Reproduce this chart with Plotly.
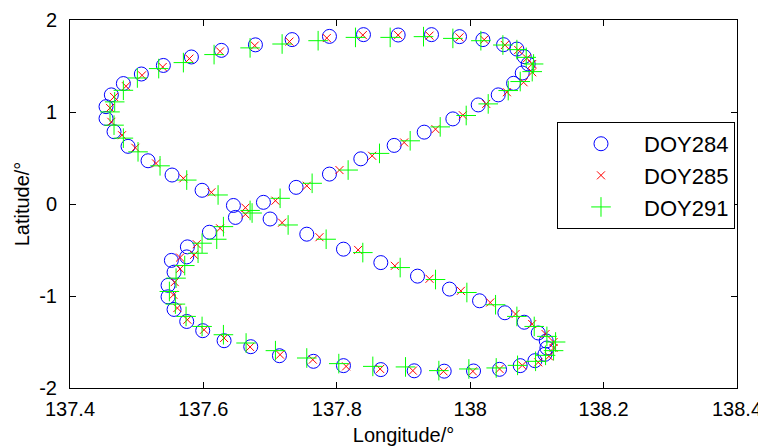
import plotly.graph_objects as go

# DOY284 (blue circles)
lon_284 = [137.690, 137.739, 137.789, 137.836, 137.886, 137.931, 137.974, 138.012, 138.042, 138.065,
           138.078, 138.087, 138.081, 138.070, 138.050, 138.019, 137.984, 137.942, 137.892, 137.840,
           137.789, 137.733, 137.678, 137.627, 137.582, 137.540, 137.507, 137.480, 137.462, 137.454,
           137.454, 137.466, 137.487, 137.517, 137.553, 137.598, 137.645, 137.700, 137.755, 137.810,
           137.866, 137.921, 137.969, 138.014, 138.052, 138.081, 138.102, 138.114, 138.115, 138.112,
           138.097, 138.075, 138.044, 138.005, 137.961, 137.916, 137.866, 137.810, 137.765, 137.714,
           137.671, 137.631, 137.599, 137.575, 137.556, 137.547, 137.547, 137.556, 137.552, 137.575,
           137.576, 137.609, 137.648]
lat_284 = [0.018, 0.181, 0.325, 0.491, 0.637, 0.781, 0.925, 1.077, 1.186, 1.312,
           1.424, 1.522, 1.602, 1.684, 1.732, 1.787, 1.819, 1.841, 1.837, 1.841,
           1.822, 1.787, 1.730, 1.670, 1.598, 1.506, 1.413, 1.309, 1.186, 1.058,
           0.930, 0.786, 0.627, 0.470, 0.315, 0.149, -0.016, -0.163, -0.328, -0.491,
           -0.637, -0.784, -0.925, -1.052, -1.182, -1.285, -1.402, -1.489, -1.565, -1.634,
           -1.703, -1.757, -1.797, -1.815, -1.817, -1.813, -1.800, -1.757, -1.710, -1.649,
           -1.551, -1.486, -1.377, -1.277, -1.146, -1.009, -0.884, -0.741, -0.613, -0.575,
           -0.466, -0.307, -0.146]

# DOY285 (red x)
lon_285 = [137.708, 137.755, 137.804, 137.853, 137.901, 137.948, 137.989, 138.024, 138.055, 138.080,
           138.093, 138.093, 138.085, 138.072, 138.052, 138.021, 137.984, 137.939, 137.892, 137.839,
           137.785, 137.729, 137.677, 137.625, 137.579, 137.539, 137.508, 137.484, 137.466, 137.460,
           137.462, 137.478, 137.498, 137.529, 137.570, 137.612, 137.663, 137.718, 137.774, 137.832,
           137.887, 137.939, 137.986, 138.030, 138.068, 138.093, 138.113, 138.125, 138.125, 138.118,
           138.102, 138.078, 138.044, 138.004, 137.960, 137.914, 137.865, 137.814, 137.764, 137.715,
           137.670, 137.631, 137.601, 137.576, 137.561, 137.555, 137.557, 137.565, 137.565, 137.586,
           137.590, 137.625, 137.663]
lat_285 = [0.036, 0.198, 0.369, 0.524, 0.669, 0.813, 0.965, 1.088, 1.215, 1.323,
           1.432, 1.522, 1.584, 1.674, 1.728, 1.786, 1.811, 1.830, 1.836, 1.836,
           1.804, 1.765, 1.722, 1.659, 1.580, 1.489, 1.399, 1.280, 1.164, 1.044,
           0.893, 0.748, 0.611, 0.441, 0.279, 0.127, -0.040, -0.203, -0.361, -0.499,
           -0.672, -0.813, -0.944, -1.071, -1.196, -1.305, -1.413, -1.500, -1.565, -1.656,
           -1.721, -1.754, -1.793, -1.819, -1.819, -1.811, -1.793, -1.765, -1.692, -1.638,
           -1.554, -1.457, -1.367, -1.258, -1.131, -0.987, -0.849, -0.705, -0.582, -0.553,
           -0.437, -0.264, -0.112]

# DOY291 (green +)
lon_291 = [137.715, 137.763, 137.817, 137.864, 137.910, 137.955, 137.994, 138.027, 138.057, 138.075,
           138.093, 138.095, 138.084, 138.070, 138.049, 138.016, 137.974, 137.930, 137.880, 137.828,
           137.772, 137.718, 137.670, 137.616, 137.570, 137.533, 137.501, 137.480, 137.467, 137.460,
           137.466, 137.480, 137.502, 137.535, 137.575, 137.622, 137.670, 137.727, 137.784, 137.839,
           137.895, 137.948, 137.995, 138.038, 138.070, 138.096, 138.115, 138.128, 138.125, 138.113,
           138.098, 138.071, 138.039, 137.998, 137.953, 137.903, 137.854, 137.803, 137.755, 137.708,
           137.664, 137.630, 137.598, 137.574, 137.558, 137.549, 137.559, 137.572, 137.592, 137.598,
           137.620, 137.630, 137.673]
lat_291 = [0.062, 0.225, 0.369, 0.550, 0.687, 0.838, 0.962, 1.088, 1.233, 1.331,
           1.439, 1.522, 1.594, 1.678, 1.728, 1.775, 1.800, 1.819, 1.811, 1.811,
           1.775, 1.739, 1.697, 1.624, 1.537, 1.472, 1.370, 1.236, 1.110, 1.001,
           0.857, 0.716, 0.567, 0.415, 0.260, 0.098, -0.070, -0.228, -0.383, -0.528,
           -0.691, -0.821, -0.962, -1.095, -1.222, -1.331, -1.439, -1.500, -1.594, -1.645,
           -1.710, -1.754, -1.782, -1.793, -1.811, -1.771, -1.765, -1.735, -1.674, -1.594,
           -1.511, -1.421, -1.331, -1.222, -1.088, -0.951, -0.806, -0.669, -0.535, -0.426,
           -0.383, -0.246, -0.098]

x_ticks = [137.4, 137.6, 137.8, 138.0, 138.2, 138.4]
x_tick_labels = ["137.4", "137.6", "137.8", "138", "138.2", "138.4"]
y_ticks = [-2, -1, 0, 1, 2]
y_tick_labels = ["-2", "-1", "0", "1", "2"]

FONT = "Liberation Sans, Arial, Helvetica, sans-serif"

fig = go.Figure()
fig.add_trace(go.Scatter(x=lon_284, y=lat_284, mode="markers", name="DOY284",
                         marker=dict(symbol="circle-open", size=14, color="#0000ff",
                                     line=dict(width=1, color="#0000ff"))))
fig.add_trace(go.Scatter(x=lon_285, y=lat_285, mode="markers", name="DOY285",
                         marker=dict(symbol="x-thin-open", size=8, color="#ff0000",
                                     line=dict(width=1, color="#ff0000"))))
fig.add_trace(go.Scatter(x=lon_291, y=lat_291, mode="markers", name="DOY291",
                         marker=dict(symbol="cross-thin-open", size=14, color="#00ff00",
                                     line=dict(width=1, color="#00ff00"))))

axis_common = dict(showgrid=False, zeroline=False, showline=True, linecolor="black", linewidth=1,
                   mirror="allticks", ticks="inside", ticklen=6, tickcolor="black",
                   automargin=False,
                   tickfont=dict(family=FONT, size=20, color="black"))

# The page body adds an 8px offset, so the figure is sized/margined to compensate.
fig.update_layout(
    width=758, height=438,
    margin=dict(l=62, r=29, t=12, b=58),
    paper_bgcolor="white", plot_bgcolor="white",
    font=dict(family=FONT, size=20, color="black"),
    xaxis=dict(range=[137.4, 138.4], tickvals=x_ticks, ticktext=x_tick_labels,
               ticklabelstandoff=3,
               title=dict(text="Longitude/°", font=dict(family=FONT, size=20), standoff=8),
               **axis_common),
    yaxis=dict(range=[-2, 2], tickvals=y_ticks, ticktext=y_tick_labels,
               ticklabelstandoff=8,
               title=dict(text="Latitude/°", font=dict(family=FONT, size=20), standoff=4),
               **axis_common),
    legend=dict(x=0.997, y=0.723, xanchor="right", yanchor="top",
                bgcolor="white", bordercolor="black", borderwidth=1,
                font=dict(family=FONT, size=22), itemwidth=76),
    showlegend=True,
)

fig.write_html("out.html")
